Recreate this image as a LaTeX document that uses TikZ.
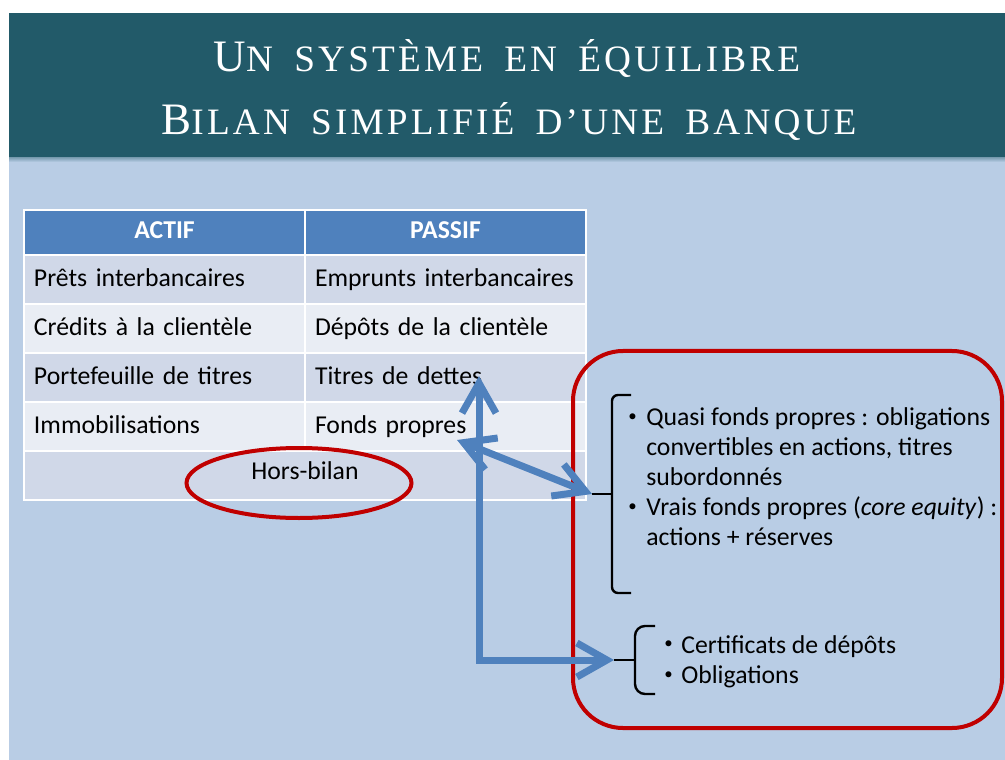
\documentclass[tikz,border=0pt]{standalone}
\usepackage{fontspec}
\setmainfont{Carlito}
\newfontfamily\titlefont[LetterSpace=8.5,WordSpace=1.7]{Liberation Serif}
\usetikzlibrary{positioning,shapes.geometric,arrows.meta}

\definecolor{bandteal}{RGB}{34,90,105}
\definecolor{slideblue}{RGB}{185,205,229}
\definecolor{headblue}{RGB}{79,129,189}
\definecolor{rowdark}{RGB}{208,216,232}
\definecolor{rowlight}{RGB}{233,237,244}
\definecolor{ringred}{RGB}{192,0,0}
\definecolor{arrowblue}{RGB}{79,129,189}

\newcommand\capbig[1]{{\fontsize{32}{35}\selectfont #1}}
\newcommand\cellsize{\fontsize{18.3}{21.3}\selectfont}

\begin{document}
\begin{tikzpicture}[x=0.25mm,y=-0.25mm,
    cell/.style={rectangle,draw=white,line width=0.4mm,inner sep=0pt,outer sep=0pt,
      inner xsep=2.5mm,minimum width=70.25mm,minimum height=12.25mm,text width=65.25mm,
      align=left,text height=4.5mm,text depth=1mm,font=\cellsize},
    headcell/.style={cell,fill=headblue,minimum height=11.25mm,align=center,
      text=white,text depth=1.5mm,font=\bfseries\cellsize},
    darkcell/.style={cell,fill=rowdark},
    lightcell/.style={cell,fill=rowlight},
    spancell/.style={darkcell,minimum width=140.5mm,text width=135.5mm,align=center,text depth=2.75mm},
    titletext/.style={text=white,inner sep=0pt,font=\titlefont\fontsize{26.5}{29}\selectfont},
    listtext/.style={inner sep=0pt,align=left,font=\cellsize},
    bulletdot/.style={inner sep=0pt,font=\fontsize{12}{14}\selectfont},
    ring/.style={ellipse,draw=ringred,line width=1mm,inner sep=0pt,minimum width=56.25mm,minimum height=17.5mm},
    redbox/.style={rectangle,draw=ringred,line width=1mm,rounded corners=12.5mm,
      minimum width=107.25mm,minimum height=94.25mm},
    bracket/.style={draw=black,line width=0.6mm,rounded corners=1.5mm},
    bluearrow/.style={draw=arrowblue,line width=1.75mm,
      {Straight Barb[length=7.5mm,width=8.5mm]}-{Straight Barb[length=7.5mm,width=8.5mm]}}]

  \useasboundingbox (0,0) rectangle (1005,760);
  % slide background
  \fill[white] (0,0) rectangle (1005,760);
  \fill[slideblue] (9,157) rectangle (1005,760);
  \fill[bandteal] (9,13) rectangle (1005,157);
  \shade[top color=bandteal!45!slideblue,bottom color=slideblue] (9,157) rectangle (1005,162);

  \node[titletext,anchor=base] (titleTop) at (507,71) {\capbig{U}N SYSTÈME EN ÉQUILIBRE};
  \node[titletext,anchor=base] (titleBottom) at (509,135) {\capbig{B}ILAN SIMPLIFIÉ D’UNE BANQUE};

  % balance sheet
  \node[headcell] (actif) at (164.5,232.5) {ACTIF};
  \node[headcell,right=0pt of actif] (passif) {PASSIF};
  \node[darkcell,below=0pt of actif] (prets) {Prêts interbancaires};
  \node[darkcell,below=0pt of passif] (emprunts) {Emprunts interbancaires};
  \node[lightcell,below=0pt of prets] (credits) {Crédits à la clientèle};
  \node[lightcell,below=0pt of emprunts] (depots) {Dépôts de la clientèle};
  \node[darkcell,below=0pt of credits] (portefeuille) {Portefeuille de titres};
  \node[darkcell,below=0pt of depots] (titres) {Titres de dettes};
  \node[lightcell,below=0pt of portefeuille] (immo) {Immobilisations};
  \node[lightcell,below=0pt of titres] (fonds) {Fonds propres};
  \node[spancell,anchor=north west] (horsbilan) at (immo.south west) {Hors-bilan};

  \node[ring] (horsRing) at (299,483) {};
  \node[redbox] (capitalBox) at (787.5,539.5) {};

  % braces
  \draw[bracket] (631,395) -- (612,395) -- (612,593) -- (631,593);
  \draw[bracket] (612,494) -- (592,494) coordinate (quasiTip);
  \draw[bracket,rounded corners=2.5mm] (655,626) -- (635,626) -- (635,694) -- (655,694);
  \draw[bracket] (635,660) -- (614,660) coordinate (certTip);

  % bullet lists (base = last line)
  \node[bulletdot,anchor=base west] (bulletQuasi) at (628,421) {•};
  \node[listtext,anchor=base west] (quasi) at (646,485) {Quasi fonds propres : obligations\\convertibles en actions, titres\\subordonnés};
  \node[bulletdot,anchor=base west] (bulletVrais) at (628,511) {•};
  \node[listtext,anchor=base west] (vrais) at (646,545) {Vrais fonds propres (\textit{core equity}) :\\actions + réserves};
  \node[bulletdot,anchor=base west] (bulletCert) at (664,648) {•};
  \node[listtext,anchor=base west] (cert) at (681,683) {Certificats de dépôts\\Obligations};
  \node[bulletdot,anchor=base west] (bulletOblig) at (664,679) {•};

  % arrows
  \coordinate (titresTip) at (479,376);
  \coordinate (fondsEnd) at (457,440);
  \draw[bluearrow] (titresTip) |- (certTip);
  \draw[bluearrow] (fondsEnd) -- (quasiTip);
\end{tikzpicture}
\end{document}
